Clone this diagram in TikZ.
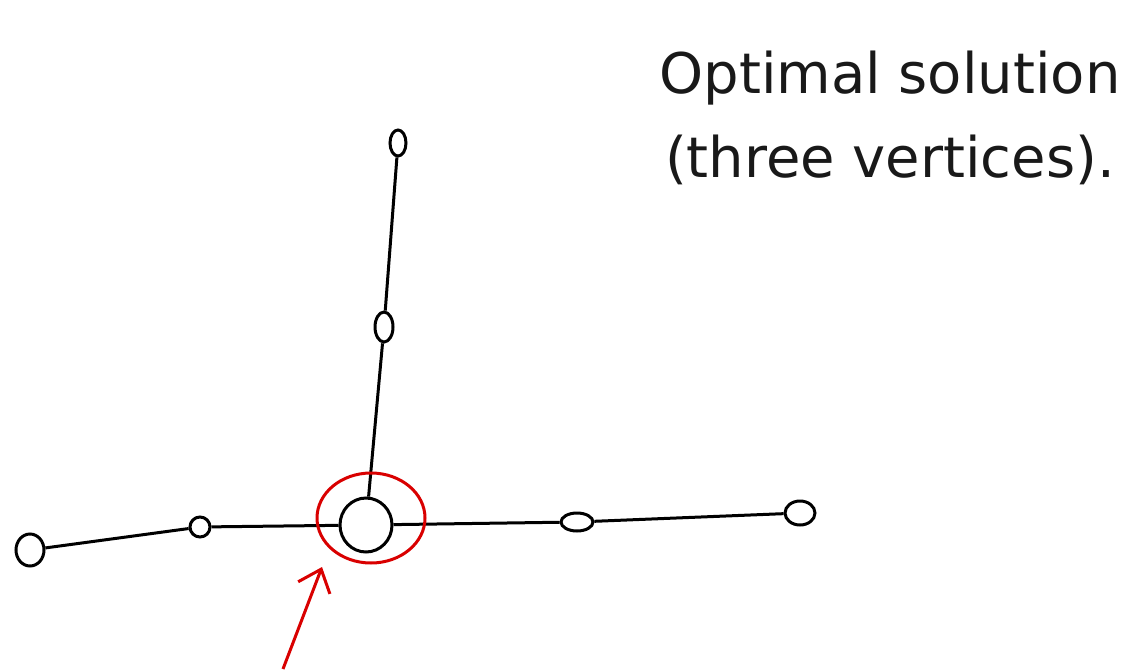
\documentclass[tikz,border=0pt]{standalone}
\usepackage{fontspec}
\setmainfont{DejaVu Sans}
\usetikzlibrary{arrows.meta,shapes.geometric}
\begin{document}
\begin{tikzpicture}[x=1pt,y=-1pt,
  vert/.style={draw=black,line width=3pt,ellipse,inner sep=0pt},
  edge/.style={draw=black,line width=3pt},
  hl/.style={draw=red!85!black,line width=3pt},
  handtext/.style={font=\fontsize{56}{84}\selectfont,align=center,text=black!90}]
\useasboundingbox (0,0) rectangle (1147,669);
\node[vert,minimum width=16pt,minimum height=26pt] (top) at (398,143) {};
\node[vert,minimum width=18pt,minimum height=30pt] (mid) at (384,327) {};
\node[vert,minimum width=52pt,minimum height=54pt] (c) at (366,525) {};
\node[vert,minimum width=20pt,minimum height=20pt] (l1) at (200,527) {};
\node[vert,minimum width=28pt,minimum height=32pt] (l2) at (30,550) {};
\node[vert,minimum width=32pt,minimum height=18pt] (r1) at (577,522) {};
\node[vert,minimum width=30pt,minimum height=24pt] (r2) at (800,513) {};
\draw[edge] (top) -- (mid);
\draw[edge] (mid) -- (c);
\draw[edge] (l2) -- (l1);
\draw[edge] (l1) -- (c);
\draw[edge] (c) -- (r1);
\draw[edge] (r1) -- (r2);
\node[hl,ellipse,minimum width=108pt,minimum height=90pt] (ring) at (371,518) {};
\coordinate (tail) at (283,669);
\draw[hl,-{Straight Barb[length=20pt,width=34pt]}] (tail) -- (322,567);
\node[handtext] (title) at (890,118) {Optimal solution\\(three vertices).};
\end{tikzpicture}
\end{document}
